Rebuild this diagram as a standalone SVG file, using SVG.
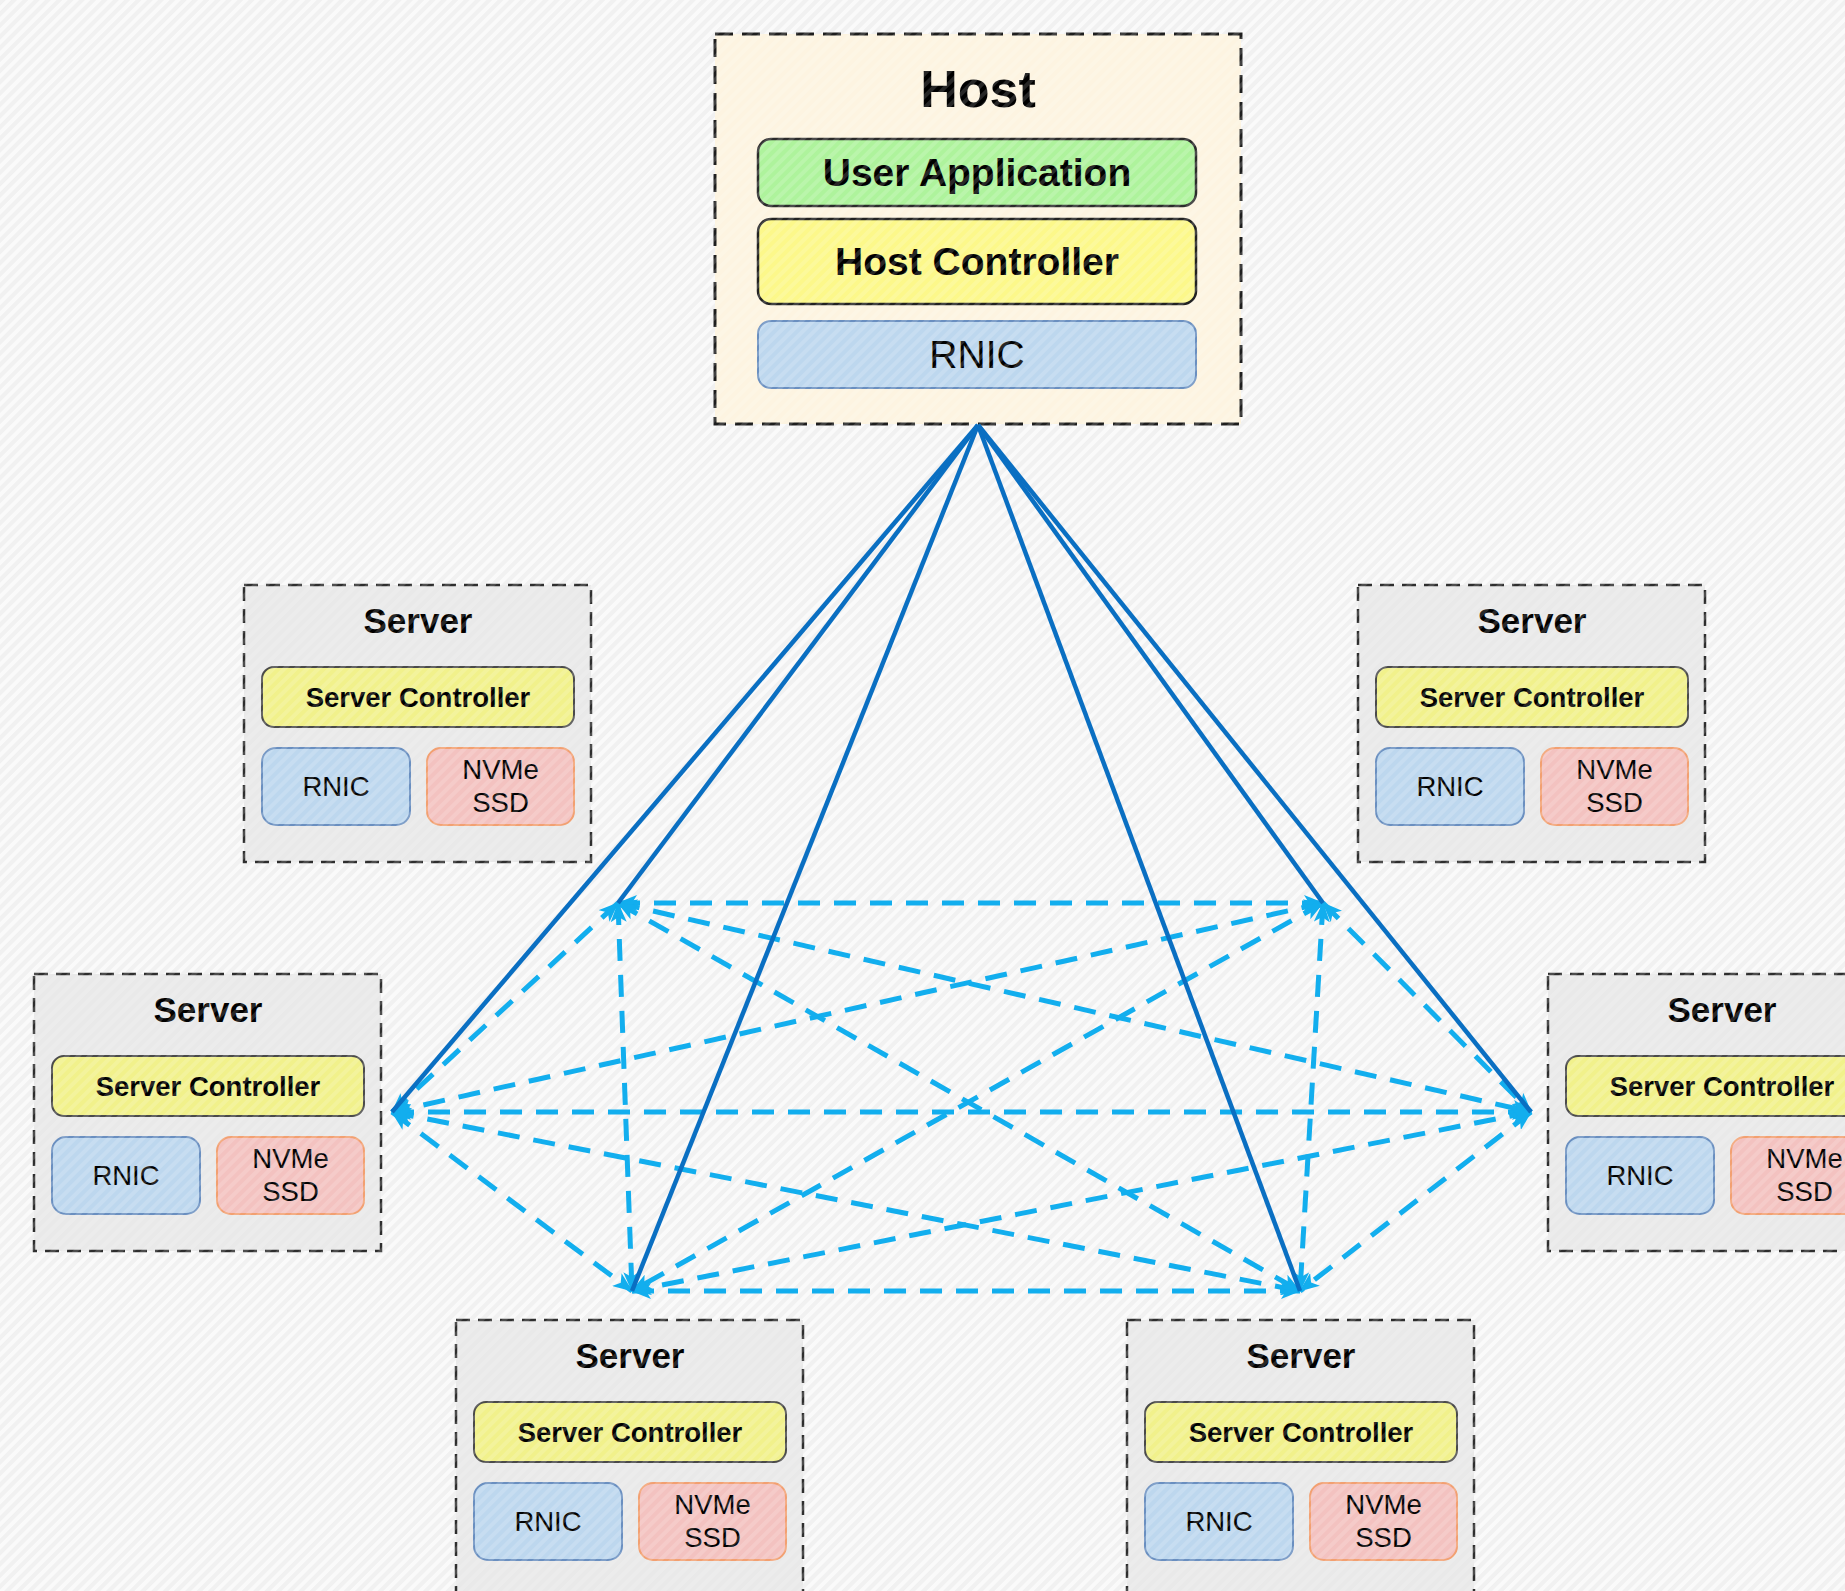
<svg xmlns="http://www.w3.org/2000/svg" width="1845" height="1591" viewBox="0 0 1845 1591">
  <style>
    text { font-family: "Liberation Sans", Arial, sans-serif; fill: #000; text-anchor: middle; }
    .frame-host { fill: #fdf4e1; stroke: #1e1e1e; stroke-width: 3; stroke-dasharray: 18 9; }
    .frame-srv { fill: #e9e9e9; stroke: #2e2e2e; stroke-width: 2.5; stroke-dasharray: 14 8; }
    .app { fill: #aef39c; stroke: #2b2b2b; stroke-width: 2.5; }
    .hctl { fill: #fcf88a; stroke: #222; stroke-width: 2.5; }
    .sctl { fill: #f1f18b; stroke: #4a4a4a; stroke-width: 2; }
    .rnic { fill: #bdd7ee; stroke: #6a8fc0; stroke-width: 2; }
    .ssd { fill: #f3c2c0; stroke: #f2a071; stroke-width: 2; }
    .t-host { font-size: 52px; font-weight: bold; }
    .t-big { font-size: 39px; font-weight: bold; }
    .t-big-r { font-size: 39px; }
    .t-srv { font-size: 35px; font-weight: bold; }
    .t-ctl { font-size: 27.5px; font-weight: bold; }
    .t-sm { font-size: 27.5px; }
    .mesh { fill: none; stroke: #12aeee; stroke-width: 5; stroke-dasharray: 22 14; marker-start: url(#tip); marker-end: url(#tip); }
    .uplink { fill: none; stroke: #0a6fc2; stroke-width: 4.5; }
  </style>
  <defs>
    <pattern id="bgStripes" width="8" height="8" patternUnits="userSpaceOnUse" patternTransform="rotate(45)">
      <rect width="8" height="8" fill="#fafafa"/>
      <rect width="4" height="8" fill="#eeeeee"/>
    </pattern>
    <pattern id="veil" width="8" height="8" patternUnits="userSpaceOnUse" patternTransform="rotate(45)">
      <rect width="4" height="8" fill="#ffffff" fill-opacity="0.15"/>
    </pattern>
    <marker id="tip" viewBox="0 0 20 16" refX="19" refY="8" markerWidth="20" markerHeight="16" markerUnits="userSpaceOnUse" orient="auto-start-reverse">
      <path d="M0,0 L20,8 L0,16 L5,8 z" fill="#12aeee"/>
    </marker>
  </defs>

  <rect width="1845" height="1591" fill="url(#bgStripes)"/>

  <!-- host -->
  <g id="host">
    <rect class="frame-host" x="715" y="34" width="526" height="390"/>
    <text class="t-host" x="978" y="107">Host</text>
    <g id="host-app">
      <rect class="app" x="758" y="139" width="438" height="67" rx="13"/>
      <text class="t-big" x="977" y="186">User Application</text>
    </g>
    <g id="host-controller">
      <rect class="hctl" x="758" y="219" width="438" height="85" rx="13"/>
      <text class="t-big" x="977" y="275">Host Controller</text>
    </g>
    <g id="host-rnic">
      <rect class="rnic" x="758" y="321" width="438" height="67" rx="13"/>
      <text class="t-big-r" x="977" y="368">RNIC</text>
    </g>
  </g>

  <!-- servers: one frame each, with controller, RNIC and SSD -->
  <g id="server-top-left" transform="translate(244,585)">
    <rect class="frame-srv" width="347" height="277"/>
    <text class="t-srv" x="174" y="48">Server</text>
    <rect class="sctl" x="18" y="82" width="312" height="60" rx="12"/>
    <text class="t-ctl" x="174" y="122">Server Controller</text>
    <rect class="rnic" x="18" y="163" width="148" height="77" rx="14"/>
    <text class="t-sm" x="92" y="211">RNIC</text>
    <rect class="ssd" x="183" y="163" width="147" height="77" rx="14"/>
    <text class="t-sm" x="256.5" y="194">NVMe</text>
    <text class="t-sm" x="256.5" y="227">SSD</text>
  </g>

  <g id="server-top-right" transform="translate(1358,585)">
    <rect class="frame-srv" width="347" height="277"/>
    <text class="t-srv" x="174" y="48">Server</text>
    <rect class="sctl" x="18" y="82" width="312" height="60" rx="12"/>
    <text class="t-ctl" x="174" y="122">Server Controller</text>
    <rect class="rnic" x="18" y="163" width="148" height="77" rx="14"/>
    <text class="t-sm" x="92" y="211">RNIC</text>
    <rect class="ssd" x="183" y="163" width="147" height="77" rx="14"/>
    <text class="t-sm" x="256.5" y="194">NVMe</text>
    <text class="t-sm" x="256.5" y="227">SSD</text>
  </g>

  <g id="server-mid-left" transform="translate(34,974)">
    <rect class="frame-srv" width="347" height="277"/>
    <text class="t-srv" x="174" y="48">Server</text>
    <rect class="sctl" x="18" y="82" width="312" height="60" rx="12"/>
    <text class="t-ctl" x="174" y="122">Server Controller</text>
    <rect class="rnic" x="18" y="163" width="148" height="77" rx="14"/>
    <text class="t-sm" x="92" y="211">RNIC</text>
    <rect class="ssd" x="183" y="163" width="147" height="77" rx="14"/>
    <text class="t-sm" x="256.5" y="194">NVMe</text>
    <text class="t-sm" x="256.5" y="227">SSD</text>
  </g>

  <g id="server-mid-right" transform="translate(1548,974)">
    <rect class="frame-srv" width="347" height="277"/>
    <text class="t-srv" x="174" y="48">Server</text>
    <rect class="sctl" x="18" y="82" width="312" height="60" rx="12"/>
    <text class="t-ctl" x="174" y="122">Server Controller</text>
    <rect class="rnic" x="18" y="163" width="148" height="77" rx="14"/>
    <text class="t-sm" x="92" y="211">RNIC</text>
    <rect class="ssd" x="183" y="163" width="147" height="77" rx="14"/>
    <text class="t-sm" x="256.5" y="194">NVMe</text>
    <text class="t-sm" x="256.5" y="227">SSD</text>
  </g>

  <g id="server-bottom-left" transform="translate(456,1320)">
    <rect class="frame-srv" width="347" height="277"/>
    <text class="t-srv" x="174" y="48">Server</text>
    <rect class="sctl" x="18" y="82" width="312" height="60" rx="12"/>
    <text class="t-ctl" x="174" y="122">Server Controller</text>
    <rect class="rnic" x="18" y="163" width="148" height="77" rx="14"/>
    <text class="t-sm" x="92" y="211">RNIC</text>
    <rect class="ssd" x="183" y="163" width="147" height="77" rx="14"/>
    <text class="t-sm" x="256.5" y="194">NVMe</text>
    <text class="t-sm" x="256.5" y="227">SSD</text>
  </g>

  <g id="server-bottom-right" transform="translate(1127,1320)">
    <rect class="frame-srv" width="347" height="277"/>
    <text class="t-srv" x="174" y="48">Server</text>
    <rect class="sctl" x="18" y="82" width="312" height="60" rx="12"/>
    <text class="t-ctl" x="174" y="122">Server Controller</text>
    <rect class="rnic" x="18" y="163" width="148" height="77" rx="14"/>
    <text class="t-sm" x="92" y="211">RNIC</text>
    <rect class="ssd" x="183" y="163" width="147" height="77" rx="14"/>
    <text class="t-sm" x="256.5" y="194">NVMe</text>
    <text class="t-sm" x="256.5" y="227">SSD</text>
  </g>

  <!-- fine diagonal hatch over the boxes -->
  <rect width="1845" height="1591" fill="url(#veil)" pointer-events="none"/>

  <!-- connectors: full mesh between server ports, then host uplinks on top -->
  <g id="connectors">
    <g id="mesh">
      <line class="mesh" x1="618" y1="903" x2="1323" y2="903"/>
      <line class="mesh" x1="392" y1="1112" x2="1531" y2="1112"/>
      <line class="mesh" x1="632" y1="1291" x2="1300" y2="1291"/>
      <line class="mesh" x1="618" y1="903" x2="392" y2="1112"/>
      <line class="mesh" x1="1323" y1="903" x2="1531" y2="1112"/>
      <line class="mesh" x1="392" y1="1112" x2="632" y2="1291"/>
      <line class="mesh" x1="1531" y1="1112" x2="1300" y2="1291"/>
      <line class="mesh" x1="618" y1="903" x2="632" y2="1291"/>
      <line class="mesh" x1="1323" y1="903" x2="1300" y2="1291"/>
      <line class="mesh" x1="618" y1="903" x2="1531" y2="1112"/>
      <line class="mesh" x1="1323" y1="903" x2="392" y2="1112"/>
      <line class="mesh" x1="392" y1="1112" x2="1300" y2="1291"/>
      <line class="mesh" x1="1531" y1="1112" x2="632" y2="1291"/>
      <line class="mesh" x1="618" y1="903" x2="1300" y2="1291"/>
      <line class="mesh" x1="1323" y1="903" x2="632" y2="1291"/>
    </g>
    <g id="uplinks">
      <line class="uplink" x1="978" y1="425" x2="618" y2="903"/>
      <line class="uplink" x1="978" y1="425" x2="392" y2="1112"/>
      <line class="uplink" x1="978" y1="425" x2="632" y2="1291"/>
      <line class="uplink" x1="978" y1="425" x2="1300" y2="1291"/>
      <line class="uplink" x1="978" y1="425" x2="1531" y2="1112"/>
      <line class="uplink" x1="978" y1="425" x2="1323" y2="903"/>
    </g>
  </g>
</svg>
